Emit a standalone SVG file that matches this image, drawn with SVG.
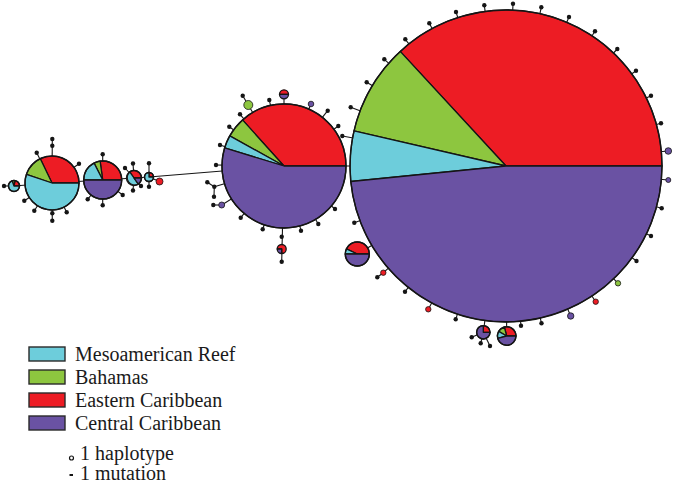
<svg xmlns="http://www.w3.org/2000/svg" width="675" height="484" viewBox="0 0 675 484">
<style>
.c{fill:#6dcddb}.g{fill:#8dc63f}.r{fill:#ed1c24}.p{fill:#6a52a3}
.w{stroke:#151515;stroke-width:1.3;stroke-linejoin:round}
.o{fill:none;stroke:#151515;stroke-width:1.4}
.s{stroke:#151515;stroke-width:1.1;fill:none}
.d{fill:#151515}
.t{stroke:#151515;stroke-width:0.8}
.lg{font-family:"Liberation Serif","Times New Roman",serif;font-size:20px;fill:#1a1a1a}
.bx{stroke:#2a2a2a;stroke-width:1.4}
</style>
<rect width="675" height="484" fill="#fff"/>
<g id="connectors" class="s">
<!-- left chain -->
<line x1="4" y1="186" x2="14" y2="186"/>
<line x1="14" y1="186" x2="52" y2="183"/>
<line x1="52" y1="183" x2="102.7" y2="180"/>
<line x1="102.7" y1="180" x2="134" y2="178"/>
<line x1="134" y1="178" x2="149" y2="177"/>
<line x1="149" y1="177" x2="159.5" y2="181.5"/>
<line x1="149" y1="177" x2="284" y2="166"/>
<line x1="284" y1="166" x2="506" y2="166"/>
<!-- pie1 spokes -->
<line x1="52" y1="183" x2="52.3" y2="139"/>
<line x1="52" y1="183" x2="36.7" y2="152.7"/>
<line x1="52" y1="183" x2="79" y2="163.7"/>
<line x1="52" y1="183" x2="24.3" y2="200.7"/>
<line x1="52" y1="183" x2="34.3" y2="210.7"/>
<line x1="52" y1="183" x2="52.3" y2="220.7"/>
<line x1="52" y1="183" x2="66.7" y2="212.3"/>
<!-- pie2 spokes -->
<line x1="102.7" y1="180" x2="102.7" y2="154.3"/>
<line x1="102.7" y1="180" x2="102.7" y2="205.3"/>
<line x1="102.7" y1="180" x2="87.7" y2="199.3"/>
<line x1="102.7" y1="180" x2="122.7" y2="195"/>
<!-- pie3 / pie4 spokes -->
<line x1="134" y1="178" x2="125" y2="168"/>
<line x1="134" y1="178" x2="133" y2="163.5"/>
<line x1="134" y1="178" x2="133" y2="190.5"/>
<line x1="134" y1="178" x2="141" y2="186"/>
<line x1="149" y1="177" x2="149" y2="163.3"/>
<line x1="149" y1="177" x2="149" y2="186.7"/>
<!-- middle hub spokes -->
<line x1="284" y1="166" x2="248.3" y2="105"/>
<line x1="248.3" y1="105" x2="242.7" y2="95.7"/>
<line x1="284" y1="166" x2="240" y2="114.3"/>
<line x1="284" y1="166" x2="229.3" y2="126.7"/>
<line x1="284" y1="166" x2="220" y2="145"/>
<line x1="284" y1="166" x2="216" y2="165"/>
<line x1="284" y1="166" x2="214.3" y2="186.7"/>
<line x1="214.3" y1="186.7" x2="207.3" y2="182.3"/>
<line x1="214.3" y1="186.7" x2="214" y2="196.7"/>
<line x1="284" y1="166" x2="221.7" y2="205"/>
<line x1="221.7" y1="205" x2="213.3" y2="205"/>
<line x1="284" y1="166" x2="240.7" y2="217.7"/>
<line x1="284" y1="166" x2="262.7" y2="229.3"/>
<line x1="284" y1="166" x2="281.7" y2="261.7"/>
<line x1="284" y1="166" x2="301" y2="230.7"/>
<line x1="284" y1="166" x2="318.3" y2="224"/>
<line x1="284" y1="166" x2="335" y2="209"/>
<line x1="284" y1="166" x2="338.3" y2="126"/>
<line x1="284" y1="166" x2="327.7" y2="110.7"/>
<line x1="284" y1="166" x2="311" y2="104"/>
<line x1="284" y1="166" x2="284" y2="94.3"/>
<line x1="284" y1="166" x2="269.3" y2="100"/>
<!-- big hub spokes -->
<line x1="506" y1="166" x2="350.7" y2="107.3"/>
<line x1="506" y1="166" x2="342.3" y2="136"/>
<line x1="506" y1="166" x2="354.3" y2="222.7"/>
<line x1="506" y1="166" x2="357.3" y2="254"/>
<line x1="506" y1="166" x2="383.3" y2="272.7"/>
<line x1="383.3" y1="272.7" x2="377.3" y2="277.3"/>
<line x1="506" y1="166" x2="405" y2="291.7"/>
<line x1="506" y1="166" x2="428.3" y2="309.3"/>
<line x1="506" y1="166" x2="455.7" y2="319.3"/>
<line x1="506" y1="166" x2="483.3" y2="332.3"/>
<line x1="483.3" y1="332.3" x2="471.7" y2="337.3"/>
<line x1="483.3" y1="332.3" x2="480.7" y2="343.3"/>
<line x1="483.3" y1="332.3" x2="490" y2="346"/>
<line x1="506" y1="166" x2="506.7" y2="336"/>
<line x1="506" y1="166" x2="521" y2="325.7"/>
<line x1="506" y1="166" x2="541.5" y2="323.3"/>
<line x1="506" y1="166" x2="570.7" y2="316"/>
<line x1="506" y1="166" x2="595.7" y2="301.7"/>
<line x1="506" y1="166" x2="618" y2="283.3"/>
<line x1="506" y1="166" x2="636.5" y2="261"/>
<line x1="506" y1="166" x2="651" y2="236"/>
<line x1="506" y1="166" x2="661.7" y2="208.3"/>
<line x1="506" y1="166" x2="668.3" y2="180"/>
<line x1="506" y1="166" x2="668.3" y2="151"/>
<line x1="506" y1="166" x2="661" y2="123.3"/>
<line x1="506" y1="166" x2="651" y2="95.7"/>
<line x1="506" y1="166" x2="636" y2="70.7"/>
<line x1="506" y1="166" x2="617.3" y2="49"/>
<line x1="506" y1="166" x2="595" y2="31.3"/>
<line x1="506" y1="166" x2="569" y2="17"/>
<line x1="506" y1="166" x2="541.3" y2="7.3"/>
<line x1="506" y1="166" x2="513" y2="3.7"/>
<line x1="506" y1="166" x2="484.3" y2="5.3"/>
<line x1="506" y1="166" x2="456" y2="12"/>
<line x1="506" y1="166" x2="429.3" y2="23.3"/>
<line x1="506" y1="166" x2="405.3" y2="39.3"/>
<line x1="506" y1="166" x2="384.3" y2="59.3"/>
<line x1="506" y1="166" x2="366.7" y2="82.3"/>
</g>

<g id="hub-big">
<path class="r w" d="M506,166 L662,166 A156,156 0 0 0 400.2,51.4 Z"/>
<path class="g w" d="M506,166 L400.2,51.4 A156,156 0 0 0 354,130.9 Z"/>
<path class="c w" d="M506,166 L354,130.9 A156,156 0 0 0 350.8,181.5 Z"/>
<path class="p w" d="M506,166 L350.8,181.5 A156,156 0 0 0 662,166 Z"/>
<circle class="o" cx="506" cy="166" r="156"/>
</g>
<g id="hub-mid">
<path class="r w" d="M284,166 L346,166 A62,62 0 0 0 242.5,119.9 Z"/>
<path class="g w" d="M284,166 L242.5,119.9 A62,62 0 0 0 229.8,135.9 Z"/>
<path class="c w" d="M284,166 L229.8,135.9 A62,62 0 0 0 224.7,147.9 Z"/>
<path class="p w" d="M284,166 L224.7,147.9 A62,62 0 1 0 346,166 Z"/>
<circle class="o" cx="284" cy="166" r="62"/>
</g>
<g id="pie-left-1">
<path class="r w" d="M52,183 L79,183 A27,27 0 0 0 40.3,158.7 Z"/>
<path class="g w" d="M52,183 L40.3,158.7 A27,27 0 0 0 26.4,174.4 Z"/>
<path class="c w" d="M52,183 L26.4,174.4 A27,27 0 1 0 79,183 Z"/>
<circle class="o" cx="52" cy="183" r="27"/>
</g>
<g id="pie-left-0">
<path class="r w" d="M14,186 L19.5,186 A5.5,5.5 0 0 0 15,180.6 Z"/>
<path class="g w" d="M14,186 L15,180.6 A5.5,5.5 0 0 0 12.1,180.8 Z"/>
<path class="c w" d="M14,186 L12.1,180.8 A5.5,5.5 0 1 0 19.5,186 Z"/>
<circle class="o" cx="14" cy="186" r="5.5"/>
</g>
<g id="pie-left-2">
<path class="r w" d="M102.7,180 L121.7,180 A19,19 0 0 0 100.1,161.2 Z"/>
<path class="g w" d="M102.7,180 L100.1,161.2 A19,19 0 0 0 94.1,163.1 Z"/>
<path class="c w" d="M102.7,180 L94.1,163.1 A19,19 0 0 0 83.7,180 Z"/>
<path class="p w" d="M102.7,180 L83.7,180 A19,19 0 0 0 121.7,180 Z"/>
<circle class="o" cx="102.7" cy="180" r="19"/>
</g>
<g id="pie-left-3">
<path class="r w" d="M134,178 L141.5,178 A7.5,7.5 0 0 0 129.7,171.9 Z"/>
<path class="c w" d="M134,178 L129.7,171.9 A7.5,7.5 0 0 0 138.3,184.1 Z"/>
<path class="p w" d="M134,178 L138.3,184.1 A7.5,7.5 0 0 0 141.5,178 Z"/>
<circle class="o" cx="134" cy="178" r="7.5"/>
</g>
<g id="pie-left-4">
<path class="r w" d="M149,177 L153.5,177 A4.5,4.5 0 0 0 149,172.5 Z"/>
<path class="c w" d="M149,177 L149,172.5 A4.5,4.5 0 1 0 153.5,177 Z"/>
<circle class="o" cx="149" cy="177" r="4.5"/>
</g>
<g id="pie-left-5">
<circle class="r t" cx="159.5" cy="181.5" r="3.5"/>
</g>
<g id="pie-mid-green">
<circle class="g t" cx="248.3" cy="105" r="4.5"/>
</g>
<g id="pie-mid-top">
<path class="r w" d="M279.5,94.3 A4.5,4.5 0 0 1 288.5,94.3 Z"/>
<path class="p w" d="M279.5,94.3 A4.5,4.5 0 0 0 288.5,94.3 Z"/>
</g>
<g id="pie-mid-bottom">
<path class="r w" d="M281.7,249 L277.2,249 A4.5,4.5 0 1 1 281.7,253.5 Z"/>
<path class="p w" d="M281.7,249 L281.7,253.5 A4.5,4.5 0 0 1 277.2,249 Z"/>
</g>
<g id="pie-big-left">
<path class="r w" d="M357.3,254 L369.3,254 A12,12 0 0 0 346.4,248.9 Z"/>
<path class="c w" d="M357.3,254 L346.4,248.9 A12,12 0 0 0 345.3,254 Z"/>
<path class="p w" d="M357.3,254 L345.3,254 A12,12 0 0 0 369.3,254 Z"/>
<circle class="o" cx="357.3" cy="254" r="12"/>
</g>
<g id="pie-big-b1">
<path class="r w" d="M483.3,332.3 L490,332.3 A6.7,6.7 0 0 0 483.3,325.6 Z"/>
<path class="p w" d="M483.3,332.3 L483.3,325.6 A6.7,6.7 0 1 0 490,332.3 Z"/>
<circle class="o" cx="483.3" cy="332.3" r="6.7"/>
</g>
<g id="pie-big-b2">
<path class="r w" d="M506.7,336 L516,336 A9.3,9.3 0 0 0 504.3,327 Z"/>
<path class="g w" d="M506.7,336 L504.3,327 A9.3,9.3 0 0 0 498.6,331.35 Z"/>
<path class="c w" d="M506.7,336 L498.6,331.35 A9.3,9.3 0 0 0 497.7,338.4 Z"/>
<path class="p w" d="M506.7,336 L497.7,338.4 A9.3,9.3 0 0 0 516,336 Z"/>
<circle class="o" cx="506.7" cy="336" r="9.3"/>
</g>
<g id="haplotypes-small">
<circle class="p t" cx="311" cy="104" r="2.8"/>
<circle class="p t" cx="221.7" cy="205" r="3"/>
<circle class="r t" cx="383.3" cy="272.7" r="2.7"/>
<circle class="r t" cx="428.3" cy="309.3" r="2.7"/>
<circle class="p t" cx="570.7" cy="316" r="3.2"/>
<circle class="r t" cx="595.7" cy="301.7" r="2.7"/>
<circle class="g t" cx="618" cy="283.3" r="2.7"/>
<circle class="p t" cx="668.3" cy="180" r="2.5"/>
<circle class="p t" cx="668.3" cy="151" r="3.3"/>
</g>
<g id="haplotypes-dots" class="d">
<circle cx="4" cy="186" r="2.2"/>
<circle cx="52.3" cy="139" r="2.2"/><circle cx="52.3" cy="145.7" r="2.2"/>
<circle cx="36.7" cy="152.7" r="2.2"/><circle cx="79" cy="163.7" r="2.2"/>
<circle cx="24.3" cy="200.7" r="2.2"/><circle cx="34.3" cy="210.7" r="2.2"/>
<circle cx="52.3" cy="213.3" r="2.2"/><circle cx="52.3" cy="220.7" r="2.2"/>
<circle cx="66.7" cy="212.3" r="2.2"/>
<circle cx="102.7" cy="154.3" r="2.2"/><circle cx="102.7" cy="205.3" r="2.2"/>
<circle cx="87.7" cy="199.3" r="2.2"/><circle cx="122.7" cy="195" r="2.2"/>
<circle cx="125" cy="168" r="2.2"/><circle cx="133" cy="163.5" r="2.2"/>
<circle cx="133" cy="190.5" r="2.2"/><circle cx="141" cy="186" r="2.2"/>
<circle cx="149" cy="163.3" r="2.2"/><circle cx="149" cy="186.7" r="2.2"/>
<circle cx="242.7" cy="95.7" r="2.2"/><circle cx="240" cy="114.3" r="2.2"/>
<circle cx="229.3" cy="126.7" r="2.2"/><circle cx="220" cy="145" r="2.2"/>
<circle cx="216" cy="165" r="2.2"/><circle cx="214.3" cy="186.7" r="2.2"/>
<circle cx="207.3" cy="182.3" r="2.2"/><circle cx="214" cy="196.7" r="2.2"/>
<circle cx="213.3" cy="205" r="2.2"/><circle cx="240.7" cy="217.7" r="2.2"/>
<circle cx="262.7" cy="229.3" r="2.2"/><circle cx="281.7" cy="236.7" r="2.2"/>
<circle cx="281.7" cy="261.7" r="2.2"/><circle cx="301" cy="230.7" r="2.2"/>
<circle cx="318.3" cy="224" r="2.2"/><circle cx="335" cy="209" r="2.2"/>
<circle cx="338.3" cy="126" r="2.2"/><circle cx="327.7" cy="110.7" r="2.2"/>
<circle cx="269.3" cy="100" r="2.2"/>
<circle cx="350.7" cy="107.3" r="2.2"/><circle cx="342.3" cy="136" r="2.2"/>
<circle cx="354.3" cy="222.7" r="2.2"/><circle cx="377.3" cy="277.3" r="2.2"/>
<circle cx="405" cy="291.7" r="2.2"/><circle cx="455.7" cy="319.3" r="2.2"/>
<circle cx="471.7" cy="337.3" r="2.2"/><circle cx="480.7" cy="343.3" r="2.2"/>
<circle cx="490" cy="346" r="2.2"/><circle cx="521" cy="325.7" r="2.2"/>
<circle cx="541.5" cy="323.3" r="2.2"/><circle cx="636.5" cy="261" r="2.2"/>
<circle cx="651" cy="236" r="2.2"/><circle cx="661.7" cy="208.3" r="2.2"/>
<circle cx="661" cy="123.3" r="2.2"/><circle cx="651" cy="95.7" r="2.2"/>
<circle cx="636" cy="70.7" r="2.2"/><circle cx="617.3" cy="49" r="2.2"/>
<circle cx="595" cy="31.3" r="2.2"/><circle cx="569" cy="17" r="2.2"/>
<circle cx="541.3" cy="7.3" r="2.2"/><circle cx="513" cy="3.7" r="2.2"/>
<circle cx="484.3" cy="5.3" r="2.2"/><circle cx="456" cy="12" r="2.2"/>
<circle cx="429.3" cy="23.3" r="2.2"/><circle cx="405.3" cy="39.3" r="2.2"/>
<circle cx="384.3" cy="59.3" r="2.2"/><circle cx="366.7" cy="82.3" r="2.2"/>
</g>
<g id="legend">
<rect class="c bx" x="29" y="347" width="36" height="14"/>
<rect class="g bx" x="29" y="370" width="36" height="14"/>
<rect class="r bx" x="29" y="393" width="36" height="14"/>
<rect class="p bx" x="29" y="416" width="36" height="14"/>
<text class="lg" x="75" y="361">Mesoamerican Reef</text>
<text class="lg" x="75" y="384">Bahamas</text>
<text class="lg" x="75" y="407">Eastern Caribbean</text>
<text class="lg" x="75" y="430">Central Caribbean</text>
<circle cx="71.5" cy="458" r="2" fill="#fff" stroke="#151515" stroke-width="1.2"/>
<text class="lg" x="80" y="460">1 haplotype</text>
<rect x="69.5" y="474" width="3.5" height="2" fill="#151515"/>
<text class="lg" x="80" y="480">1 mutation</text>
</g>
</svg>
